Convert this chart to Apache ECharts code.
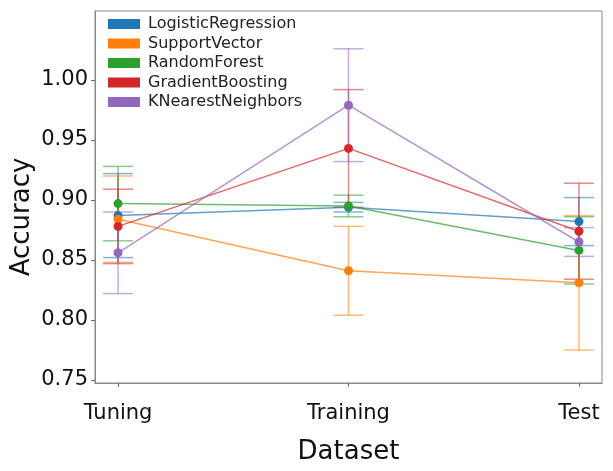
<!DOCTYPE html>
<html>
<head>
<meta charset="utf-8">
<script src="https://cdn.jsdelivr.net/npm/echarts@6/dist/echarts.min.js"></script>
<style>html,body{margin:0;padding:0;background:#fff}#c{width:613px;height:471px}</style>
</head>
<body>
<div id="c"></div>
<script>
const categories = ['Tuning', 'Training', 'Test'];
const modelNames = ['LogisticRegression', 'SupportVector', 'RandomForest', 'GradientBoosting', 'KNearestNeighbors'];
const lrMean = [0.887, 0.894, 0.882];
const lrErr = [0.035, 0.004, 0.020];
const svMean = [0.884, 0.841, 0.831];
const svErr = [0.036, 0.037, 0.056];
const rfMean = [0.897, 0.895, 0.858];
const rfErr = [0.031, 0.009, 0.028];
const gbMean = [0.878, 0.943, 0.874];
const gbErr = [0.031, 0.049, 0.040];
const knnMean = [0.856, 0.979, 0.865];
const knnErr = [0.034, 0.047, 0.012];
const yTicks = [0.75, 0.80, 0.85, 0.90, 0.95, 1.00];

const colors = ['#1f77b4', '#ff7f0e', '#2ca02c', '#d62728', '#9467bd'];
const means = [lrMean, svMean, rfMean, gbMean, knnMean];
const errs = [lrErr, svErr, rfErr, gbErr, knnErr];
const FONT = 'DejaVu Sans';

const series = [];
modelNames.forEach((name, i) => {
  const color = colors[i];
  series.push({
    name: name,
    type: 'line',
    data: means[i].map((v, j) => [j, v]),
    symbol: 'circle',
    symbolSize: 9,
    itemStyle: { color: color, opacity: 1 },
    lineStyle: { color: color, width: 1.5, opacity: 0.7 },
    z: 3 + i * 0.01,
    silent: true
  });
});
modelNames.forEach((name, i) => {
  const color = colors[i];
  series.push({
    name: name,
    type: 'custom',
    data: means[i].map((v, j) => [j, v - errs[i][j], v + errs[i][j]]),
    z: 2,
    silent: true,
    renderItem: function (params, api) {
      const x = api.value(0);
      const top = api.coord([x, api.value(2)]);
      const bot = api.coord([x, api.value(1)]);
      const hw = 15;
      const st = { stroke: color, lineWidth: 1.5, opacity: 0.55 };
      return {
        type: 'group',
        children: [
          { type: 'line', shape: { x1: top[0], y1: top[1], x2: bot[0], y2: bot[1] }, style: st },
          { type: 'line', shape: { x1: top[0] - hw, y1: top[1], x2: top[0] + hw, y2: top[1] }, style: st },
          { type: 'line', shape: { x1: bot[0] - hw, y1: bot[1], x2: bot[0] + hw, y2: bot[1] }, style: st }
        ]
      };
    }
  });
});

const chart = echarts.init(document.getElementById('c'), null, { renderer: 'canvas' });
chart.setOption({
  animation: false,
  backgroundColor: '#fff',
  textStyle: { fontFamily: FONT },
  grid: { left: 95, right: 11, top: 11, bottom: 88, show: true, borderColor: '#888', borderWidth: 1, backgroundColor: 'transparent' },
  legend: {
    orient: 'vertical',
    left: 103,
    top: 11,
    itemWidth: 32,
    itemHeight: 10,
    itemGap: 3.5,
    icon: 'rect',
    data: modelNames,
    textStyle: { fontFamily: FONT, fontSize: 16, color: '#222', padding: [0, 0, 0, 3] }
  },
  xAxis: {
    type: 'value',
    min: -0.1,
    max: 2.1,
    splitLine: { show: false },
    axisLine: { show: true, onZero: false, lineStyle: { color: '#888', width: 1 } },
    axisTick: { show: true, inside: false, length: 4, lineStyle: { color: '#666' }, customValues: [0, 1, 2] },
    axisLabel: {
      customValues: [0, 1, 2],
      formatter: v => categories[Math.round(v)],
      fontFamily: FONT, fontSize: 21, color: '#111', margin: 20
    }
  },
  yAxis: {
    type: 'value',
    min: 0.7475,
    max: 1.0575,
    splitLine: { show: false },
    axisLine: { show: true, onZero: false, lineStyle: { color: '#888', width: 1 } },
    axisTick: { show: true, inside: false, length: 4, lineStyle: { color: '#666' }, customValues: yTicks },
    axisLabel: {
      customValues: yTicks,
      formatter: v => v.toFixed(2),
      fontFamily: FONT, fontSize: 21, color: '#111', margin: 7
    }
  },
  graphic: [
    { type: 'text', x: 22, y: 217, rotation: Math.PI / 2, style: { text: 'Accuracy', fontFamily: FONT, fontSize: 26, fill: '#111', align: 'center', verticalAlign: 'middle' } },
    { type: 'text', x: 348.5, y: 452, style: { text: 'Dataset', fontFamily: FONT, fontSize: 26, fill: '#111', align: 'center', verticalAlign: 'middle' } }
  ],
  series: series
});
</script>
</body>
</html>
